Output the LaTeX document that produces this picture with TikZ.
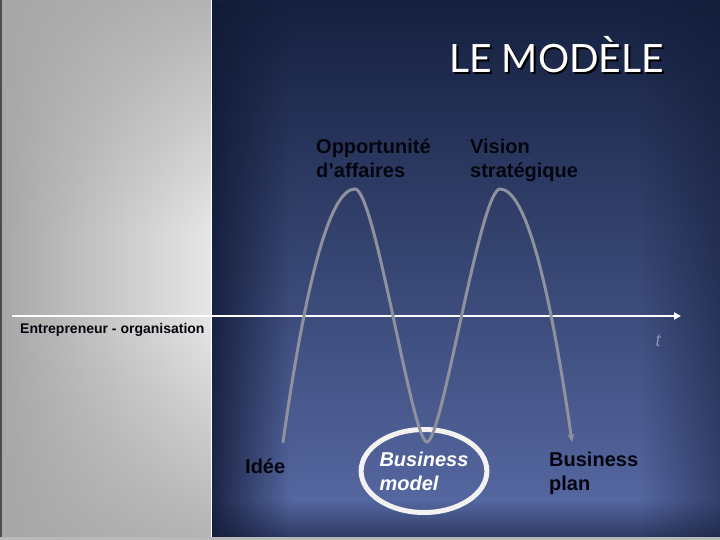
\documentclass[tikz,border=0pt]{standalone}
\usepackage{fontspec}
\setmainfont{Liberation Sans}
\newfontfamily\titlefont{Lato}
\usetikzlibrary{arrows.meta,shapes.geometric,fadings}
\definecolor{navytop}{HTML}{15203F}
\definecolor{navymid}{HTML}{3E4F86}
\definecolor{navybot}{HTML}{5A6CA8}
\definecolor{navyedge}{HTML}{121A36}
\definecolor{panelgray}{HTML}{A7A7A7}
\definecolor{panellight}{HTML}{E6E6E6}
\definecolor{wavegray}{HTML}{8E929C}
\definecolor{inkdark}{HTML}{05050F}
\definecolor{tgray}{HTML}{8A90B0}
\tikzfading[name=fadeoutright,left color=transparent!0,right color=transparent!100]
\tikzfading[name=fadeoutleft,left color=transparent!100,right color=transparent!0]
\tikzfading[name=fadeoutdown,top color=transparent!0,bottom color=transparent!100]
\tikzfading[name=fadeoutup,top color=transparent!100,bottom color=transparent!0]
\newcommand{\shadowed}[1]{\makebox[0pt][l]{\hspace{2pt}\raisebox{-2pt}{\color{black}#1}}#1}
\begin{document}
\begin{tikzpicture}[x=1pt,y=-1pt,
    lbl/.style={font=\fontsize{20}{24}\selectfont\bfseries,text=inkdark,align=left,inner sep=0pt,anchor=base west},
    titletext/.style={font=\titlefont\fontsize{39}{39}\selectfont,inner sep=0pt,anchor=base west},
    wave/.style={wavegray,line width=3pt,line cap=round}]
    \useasboundingbox (0,0) rectangle (720,540);
    % left panel
    \shade[left color=panelgray,right color=panellight] (0,0) rectangle (211,540);
    \fill[panelgray,path fading=fadeoutdown,fill opacity=0.8] (0,0) rectangle (211,230);
    \fill[panelgray,path fading=fadeoutup,fill opacity=0.8] (0,320) rectangle (211,540);
    \draw[gray!60!black,line width=1.5pt] (0.75,0) -- (0.75,540);
    % right panel
    \shade[top color=navytop,middle color=navymid,bottom color=navybot] (212,0) rectangle (720,540);
    \fill[navyedge,path fading=fadeoutright,fill opacity=0.85] (212,0) rectangle (290,540);
    \fill[navyedge,path fading=fadeoutleft,fill opacity=0.5] (640,0) rectangle (720,540);
    \fill[navyedge,path fading=fadeoutup,fill opacity=0.6] (212,500) rectangle (720,537);
    \draw[white,line width=1pt] (211.5,0) -- (211.5,540);
    \fill[gray!55] (0,537) rectangle (720,540);
    % title
    \node[titletext,text=white] (title) at (449,73) {\shadowed{LE MODÈLE}};
    % time axis
    \coordinate (ax0) at (12,316);
    \coordinate (ax1) at (681,316);
    \draw[white,line width=2pt,-{Triangle[length=7pt,width=7pt]}] (ax0) -- (ax1);
    \node[font=\fontsize{18}{18}\selectfont\itshape,text=tgray] (tlbl) at (658,341) {t};
    \node[font=\fontsize{14}{16}\selectfont\bfseries,text=inkdark,inner sep=0pt,anchor=base west] (entre) at (20,333) {Entrepreneur - organisation};
    % labels (base = last line)
    \node[lbl] (opp) at (316,178) {Opportunité\\d’affaires};
    \node[lbl] (vision) at (470,178) {Vision\\stratégique};
    \node[lbl] (idee) at (245,473) {Idée};
    \node[lbl] (bplan) at (549,490) {Business\\plan};
    \node[ellipse,draw=white!95!black,line width=5pt,minimum width=125pt,minimum height=83pt,inner sep=0pt,
        font=\fontsize{20}{24}\selectfont\bfseries\itshape,text=white,align=left] (bmodel) at (424,471) {Business\\model};
    % wave
    \foreach \n/\x/\y in {0/283/442,1/355/189,2/427/442,3/500/189,4/572/442}
        \coordinate (w\n) at (\x,\y);
    \draw[wave,-{Stealth[length=8pt,width=7pt]}] (w0) .. controls +(24,-169) and +(-24,0) .. (w1)
        .. controls +(20,0) and +(-15,0) .. (w2)
        .. controls +(15,0) and +(-20,0) .. (w3)
        .. controls +(24,0) and +(-24,-169) .. (w4);
\end{tikzpicture}
\end{document}
